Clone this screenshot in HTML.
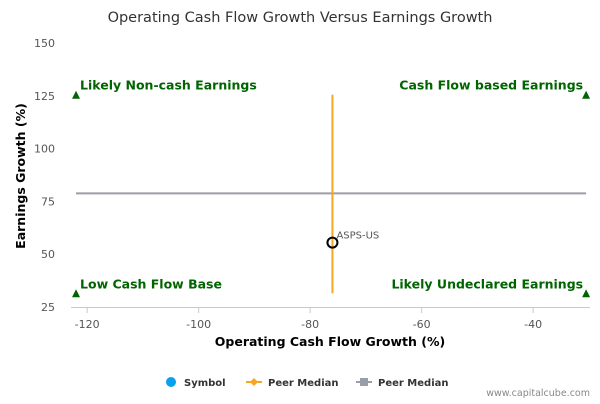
<!DOCTYPE html>
<html><head><meta charset="utf-8"><style>
body{margin:0;background:#fff;font-family:"DejaVu Sans","Liberation Sans",sans-serif}
</style></head><body>
<svg id="chart" width="600" height="400" xmlns="http://www.w3.org/2000/svg" font-family="DejaVu Sans, Liberation Sans, sans-serif">
<rect width="600" height="400" fill="#fff"/>
<text x="300" y="22" text-anchor="middle" font-size="14.5" fill="#333">Operating Cash Flow Growth Versus Earnings Growth</text>
<g id="axes"></g>
<g id="marks"></g>
<text x="330" y="346" text-anchor="middle" font-size="12.5" font-weight="bold" fill="#000">Operating Cash Flow Growth (%)</text>
<text transform="translate(25,176) rotate(-90)" text-anchor="middle" font-size="12.5" font-weight="bold" fill="#000">Earnings Growth (%)</text>
<g>
<g><circle cx="171" cy="382" r="5" fill="#0aa0f0"/><text x="184" y="386" font-size="10" font-weight="bold" fill="#333">Symbol</text></g>
<g><line x1="246" y1="382" x2="262" y2="382" stroke="#f5a623" stroke-width="2"/><path d="M254 378 L258 382 L254 386 L250 382Z" fill="#f5a623"/><text x="268" y="386" font-size="10" font-weight="bold" fill="#333">Peer Median</text></g>
<g><line x1="356" y1="382" x2="372" y2="382" stroke="#9a9ea8" stroke-width="2"/><rect x="360" y="378" width="8" height="8" fill="#9a9ea8"/><text x="378" y="386" font-size="10" font-weight="bold" fill="#333">Peer Median</text></g>
</g>
<text x="590" y="396" text-anchor="end" font-size="9.5" fill="#888">www.capitalcube.com</text>
</svg>
<script>
const xTicks=[-120,-100,-80,-60,-40];
const yTicks=[25,50,75,100,125,150];
const symbolLabels=["ASPS-US"];
const symbolX=[-76];
const symbolY=[55.5];
const peerMedianX=[-76];
const peerMedianY=[78.8];
const vLineRange=[31.5,125.5];
const hLineRange=[-122,-30.5];
const quadrantLabels=["Likely Non-cash Earnings","Cash Flow based Earnings","Low Cash Flow Base","Likely Undeclared Earnings"];
const quadrantX=[-122,-30.5,-122,-30.5];
const quadrantY=[125.5,125.5,31.5,31.5];
const X0=71,X1=590,Y0=307,Y1=43;
const xmin=-122.9,xmax=-29.8,ymin=25,ymax=150;
const sx=v=>X0+(v-xmin)/(xmax-xmin)*(X1-X0);
const sy=v=>Y0-(v-ymin)/(ymax-ymin)*(Y0-Y1);
const NS="http://www.w3.org/2000/svg";
function mk(tag,attrs,parent,txt){const e=document.createElementNS(NS,tag);for(const k in attrs)e.setAttribute(k,attrs[k]);if(txt!=null)e.textContent=txt;parent.appendChild(e);return e;}
const ax=document.getElementById('axes'),mg=document.getElementById('marks');
let e=mk('line',{x1:X0,x2:X1,y1:Y0+0.5,y2:Y0+0.5,stroke:'#c0ccd8','stroke-width':1},ax);


xTicks.forEach(t=>{
 let l=mk('line',{x1:sx(t),x2:sx(t),y1:Y0,y2:Y0+6,stroke:'#c0ccd8'},ax);
 
 
 let tx=mk('text',{x:sx(t),y:Y0+21,'text-anchor':'middle','font-size':11,fill:'#555'},ax,String(t));
 
 
});
yTicks.forEach(t=>{
 let tx=mk('text',{x:55,y:sy(t)+4,'text-anchor':'end','font-size':11,fill:'#555'},ax,String(t));
 
 
});
let h=mk('line',{x1:sx(hLineRange[0]),x2:sx(hLineRange[1]),y1:sy(peerMedianY[0]),y2:sy(peerMedianY[0]),stroke:'#9a9ea8','stroke-width':2},mg);


let v=mk('line',{x1:sx(peerMedianX[0]),x2:sx(peerMedianX[0]),y1:sy(vLineRange[0]),y2:sy(vLineRange[1]),stroke:'#f5a623','stroke-width':2},mg);


quadrantLabels.forEach((q,i)=>{
 const x=sx(quadrantX[i]),y=sy(quadrantY[i]);
 let t=mk('path',{d:`M${x-4} ${y+4} L${x} ${y-4} L${x+4} ${y+4}Z`,fill:'#006400'},mg);
 
 
 const right=i%2===1;
 let tx=mk('text',{x:right?x-3:x+4,y:y-5,'text-anchor':right?'end':'start','font-size':12.5,'font-weight':'bold',fill:'#006400'},mg,q);
 
 
});
symbolLabels.forEach((s,i)=>{
 let c=mk('circle',{cx:sx(symbolX[i]),cy:sy(symbolY[i]),r:5,fill:'none',stroke:'#000','stroke-width':2},mg);
 
 
 let tx=mk('text',{x:sx(symbolX[i])+4,y:sy(symbolY[i])-4,'font-size':10,fill:'#555'},mg,s);
 
 
});
</script>
</body></html>
